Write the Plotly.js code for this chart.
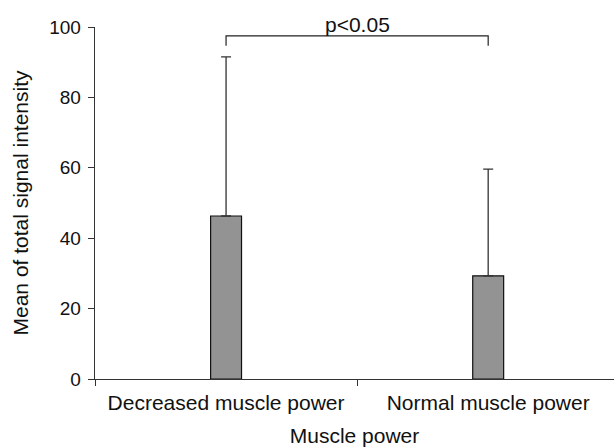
<!DOCTYPE html>
<html><head><meta charset="utf-8">
<script src="https://cdn.plot.ly/plotly-3.0.1.min.js"></script>
<style>html,body{margin:0;padding:0;background:#fff}#c{width:614px;height:447px}</style>
</head><body><div id="c"></div>
<script>
const categories = ["Decreased muscle power", "Normal muscle power"];
const means = [46.3, 29.3];
const sdUpper = [45.2, 30.3];
const yTicks = [0, 20, 40, 60, 80, 100];
const bracketPair = [0, 1];
const bracketY = [94.7, 97.5];
const pLabel = "p<0.05";

const font = "Liberation Sans, Arial, sans-serif";
const trace = {
  type: "bar",
  x: categories,
  y: means,
  width: 0.118,
  marker: {color: "#939393", line: {color: "#111", width: 1.2}},
  error_y: {type: "data", symmetric: false, array: sdUpper, arrayminus: means.map(() => 0),
            color: "#333", thickness: 1.3, width: 5},
  hoverinfo: "none"
};
const layout = {
  width: 614, height: 447,
  margin: {l: 95, r: 0, t: 27, b: 68},
  paper_bgcolor: "#fff", plot_bgcolor: "#fff",
  showlegend: false,
  font: {family: font, size: 19, color: "#111"},
  xaxis: {
    type: "category", range: [-0.5, 1.48],
    tickson: "boundaries", ticks: "outside", ticklen: 6, tickcolor: "#333",
    showline: true, linecolor: "#333", linewidth: 1.3, showgrid: false, zeroline: false,
    tickfont: {size: 21, family: font, color: "#111"},
    ticklabelstandoff: 4,
    title: {text: "Muscle power", font: {size: 21, family: font, color: "#111"}, standoff: 17}
  },
  yaxis: {
    range: [0, 100], tickvals: yTicks, ticktext: yTicks.map(String),
    ticks: "outside", ticklen: 6, tickcolor: "#333",
    showline: true, linecolor: "#333", linewidth: 1.3, showgrid: false, zeroline: false,
    tickfont: {size: 19, family: font, color: "#111"},
    ticklabelstandoff: 3,
    title: {text: "Mean of total signal intensity", font: {size: 21, family: font, color: "#111"}, standoff: 14}
  },
  shapes: [
    {type: "path", xref: "x", yref: "y", line: {color: "#222", width: 1.2},
     path: `M ${bracketPair[0]} ${bracketY[0]} L ${bracketPair[0]} ${bracketY[1]} L ${bracketPair[1]} ${bracketY[1]} L ${bracketPair[1]} ${bracketY[0]}`}
  ],
  annotations: [
    {x: (bracketPair[0] + bracketPair[1]) / 2, y: bracketY[1], xref: "x", yref: "y",
     text: pLabel, showarrow: false, yanchor: "bottom", yshift: -2,
     font: {size: 21, family: font, color: "#111"}}
  ]
};
Plotly.newPlot("c", [trace], layout, {staticPlot: true, displayModeBar: false});
</script></body></html>
